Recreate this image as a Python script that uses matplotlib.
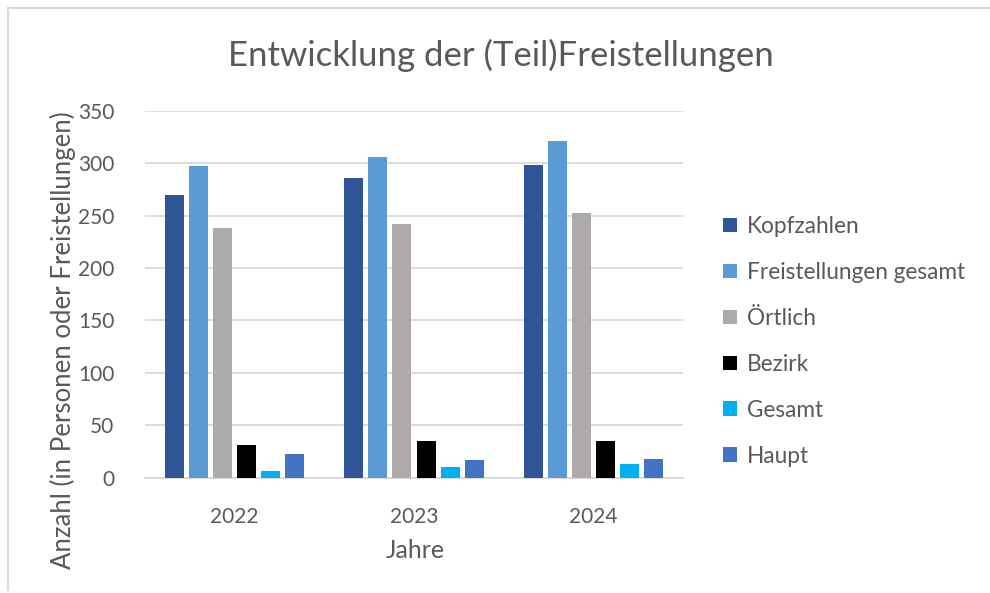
import matplotlib.pyplot as plt
import numpy as np
from matplotlib.lines import Line2D
from matplotlib.patches import Patch

plt.rcParams['font.family'] = ['Lato', 'DejaVu Sans']

years = ['2022', '2023', '2024']
series_names = ['Kopfzahlen', 'Freistellungen gesamt', 'Örtlich', 'Bezirk', 'Gesamt', 'Haupt']
kopfzahlen = [270, 286, 298]
freistellungen_gesamt = [297, 306, 321]
oertlich = [238, 242, 253]
bezirk = [31, 35, 35]
gesamt = [6, 10, 13]
haupt = [22, 17, 18]
yticks = [0, 50, 100, 150, 200, 250, 300, 350]
colors = ['#2F5597', '#5B9BD5', '#AEAAAA', '#000000', '#00B0F0', '#4472C4']

data = [kopfzahlen, freistellungen_gesamt, oertlich, bezirk, gesamt, haupt]

W, H = 990, 593
fig = plt.figure(figsize=(W / 100, H / 100), dpi=100)
ax = fig.add_axes([145 / W, 1 - 477.5 / H, (683 - 145) / W, (477.5 - 111) / H])

x = np.arange(len(years))
pitch = 0.134
width = 0.106
text_color = '#595959'
for i, (vals, c, name) in enumerate(zip(data, colors, series_names)):
    ax.bar(x + (i - 2.5) * pitch, vals, width, color=c, label=name, zorder=3)

ax.set_xlim(-0.5, 2.5)
ax.set_ylim(0, 350)
ax.set_yticks(yticks)
ax.set_yticklabels([str(v) for v in yticks])
ax.set_xticks(x)
ax.set_xticklabels(years)
ax.grid(axis='y', color='#D9D9D9', linewidth=1.3, zorder=0)
for s in ['top', 'right', 'left']:
    ax.spines[s].set_visible(False)
ax.spines['bottom'].set_color('#D9D9D9')
ax.spines['bottom'].set_linewidth(1.3)
ax.tick_params(axis='both', length=0, labelsize=15, labelcolor=text_color)
ax.tick_params(axis='y', pad=22)
ax.tick_params(axis='x', pad=21)

fig.text(501 / W, 1 - 55 / H, 'Entwicklung der (Teil)Freistellungen', ha='center', va='center',
         fontsize=25, color=text_color)
fig.text(63 / W, 1 - 340 / H, 'Anzahl (in Personen oder Freistellungen)', rotation=90,
         rotation_mode='anchor', ha='center', va='center', fontsize=18.5, color=text_color)
fig.text(415 / W, 1 - 550 / H, 'Jahre', ha='center', va='center', fontsize=18, color=text_color)

handles = [Patch(facecolor=c, edgecolor='none') for c in colors]
leg = fig.legend(handles, series_names, loc='upper left', bbox_to_anchor=(714 / W, 1 - 207 / H),
                 frameon=False, fontsize=16.3, labelcolor=text_color, handlelength=0.6,
                 handleheight=0.6, handletextpad=0.45, labelspacing=1.1, borderaxespad=0)

# chart border (top and left edges visible)
border = '#D9D9D9'
fig.add_artist(Line2D([8 / W, 1], [1 - 8 / H, 1 - 8 / H], color=border, linewidth=1.5))
fig.add_artist(Line2D([8 / W, 8 / W], [1 - 590 / H, 1 - 8 / H], color=border, linewidth=1.5))

fig.savefig('out.png', dpi=100)
